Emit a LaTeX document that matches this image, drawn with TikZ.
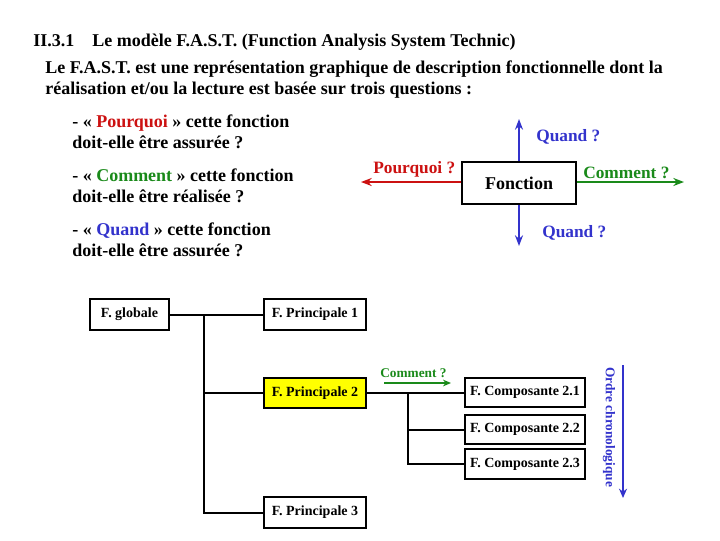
\documentclass[tikz,border=0pt]{standalone}
\usepackage{fontspec}
\setmainfont{Liberation Serif}
\usetikzlibrary{arrows.meta}
\definecolor{cred}{RGB}{204,17,17}
\definecolor{cgreen}{RGB}{26,138,26}
\definecolor{cblue}{RGB}{51,51,204}
\definecolor{cyel}{RGB}{255,255,0}
\begin{document}
\begin{tikzpicture}[x=0.75pt,y=-0.75pt,
  txt/.style={anchor=base west,inner sep=0pt,font=\fontsize{13.5pt}{16pt}\selectfont\bfseries},
  lbl/.style={anchor=base west,inner sep=0pt,font=\fontsize{13pt}{16pt}\selectfont\bfseries},
  box/.style={draw,line width=1.5pt,inner sep=0pt,font=\fontsize{10.5pt}{12pt}\selectfont\bfseries,fill=white},
  tree/.style={line width=1.5pt},
  arr/.style={line width=1.5pt,-{Stealth[length=8pt,width=6pt]}}]
\useasboundingbox (0,0) rectangle (720,540);
% header
\node[txt] (h1) at (33,46) {II.3.1};
\node[txt] (h2) at (92,46) {Le modèle F.A.S.T. (Function Analysis System Technic)};
\node[txt] (h3) at (45,73) {Le F.A.S.T. est une représentation graphique de description fonctionnelle dont la};
\node[txt] (h4) at (45,94) {réalisation et/ou la lecture est basée sur trois questions :};
% questions
\node[txt] (q1) at (72,127) {- « \textcolor{cred}{Pourquoi} » cette fonction};
\node[txt] (q2) at (72,148) {doit-elle être assurée ?};
\node[txt] (q3) at (72,181) {- « \textcolor{cgreen}{Comment} » cette fonction};
\node[txt] (q4) at (72,202) {doit-elle être réalisée ?};
\node[txt] (q5) at (72,235) {- « \textcolor{cblue}{Quand} » cette fonction};
\node[txt] (q6) at (72,256) {doit-elle être assurée ?};
% Fonction diagram
\node[box,minimum width=114*0.75pt,minimum height=42*0.75pt,font=\fontsize{13.5pt}{16pt}\selectfont\bfseries] (fonc) at (519,183) {Fonction};
\coordinate (qt) at (519,119);
\coordinate (qb) at (519,246);
\coordinate (pl) at (361,182);
\coordinate (cr) at (684,182);
\draw[arr,cblue] (fonc.north) -- (qt);
\draw[arr,cblue] (fonc.south) -- (qb);
\draw[arr,cred] (fonc.west |- pl) -- (pl);
\draw[arr,cgreen] (fonc.east |- cr) -- (cr);
\node[lbl,text=cblue] (lq1) at (536,141) {Quand ?};
\node[lbl,text=cblue] (lq2) at (542,237) {Quand ?};
\node[lbl,text=cred] (lp) at (373,173) {Pourquoi ?};
\node[lbl,text=cgreen] (lc) at (583,178) {Comment ?};
% tree
\node[box,minimum width=79*0.75pt,minimum height=31*0.75pt] (glob) at (129.5,314.5) {F. globale};
\node[box,minimum width=102*0.75pt,minimum height=31*0.75pt] (p1) at (315,314.5) {F. Principale 1};
\node[box,minimum width=102*0.75pt,minimum height=30*0.75pt,fill=cyel] (p2) at (315,393) {F. Principale 2};
\node[box,minimum width=102*0.75pt,minimum height=31*0.75pt] (p3) at (315,512.5) {F. Principale 3};
\coordinate (j1) at (204,314.5);
\draw[tree] (glob) -- (p1);
\draw[tree] (j1) |- (p2.west);
\draw[tree] (j1) |- (p3.west);
\node[box,minimum width=120*0.75pt,minimum height=29*0.75pt] (c1) at (525,392.5) {F. Composante 2.1};
\node[box,minimum width=120*0.75pt,minimum height=29*0.75pt] (c2) at (525,429.5) {F. Composante 2.2};
\node[box,minimum width=120*0.75pt,minimum height=30*0.75pt] (c3) at (525,464) {F. Composante 2.3};
\coordinate (j2) at (408,392.5);
\draw[tree] (p2.east |- j2) -- (c1.west);
\draw[tree] (j2) |- (c2.west);
\draw[tree] (j2) |- (c3.west);
\node[anchor=base west,inner sep=0pt,text=cgreen,font=\fontsize{10pt}{12pt}\selectfont\bfseries] (lc2) at (380,377) {Comment ?};
\coordinate (ca) at (384,383);
\coordinate (cb) at (451,383);
\draw[cgreen,line width=1.5pt,-{Stealth[length=6pt,width=5pt]}] (ca) -- (cb);
% chronological
\node[rotate=-90,inner sep=0pt,text=cblue,font=\fontsize{10pt}{12pt}\selectfont\bfseries] (oc) at (609,427) {Ordre chronologique};
\coordinate (oa) at (623,365);
\coordinate (ob) at (623,498);
\draw[cblue,line width=1.5pt,-{Stealth[length=7pt,width=6pt]}] (oa) -- (ob);
\end{tikzpicture}
\end{document}
